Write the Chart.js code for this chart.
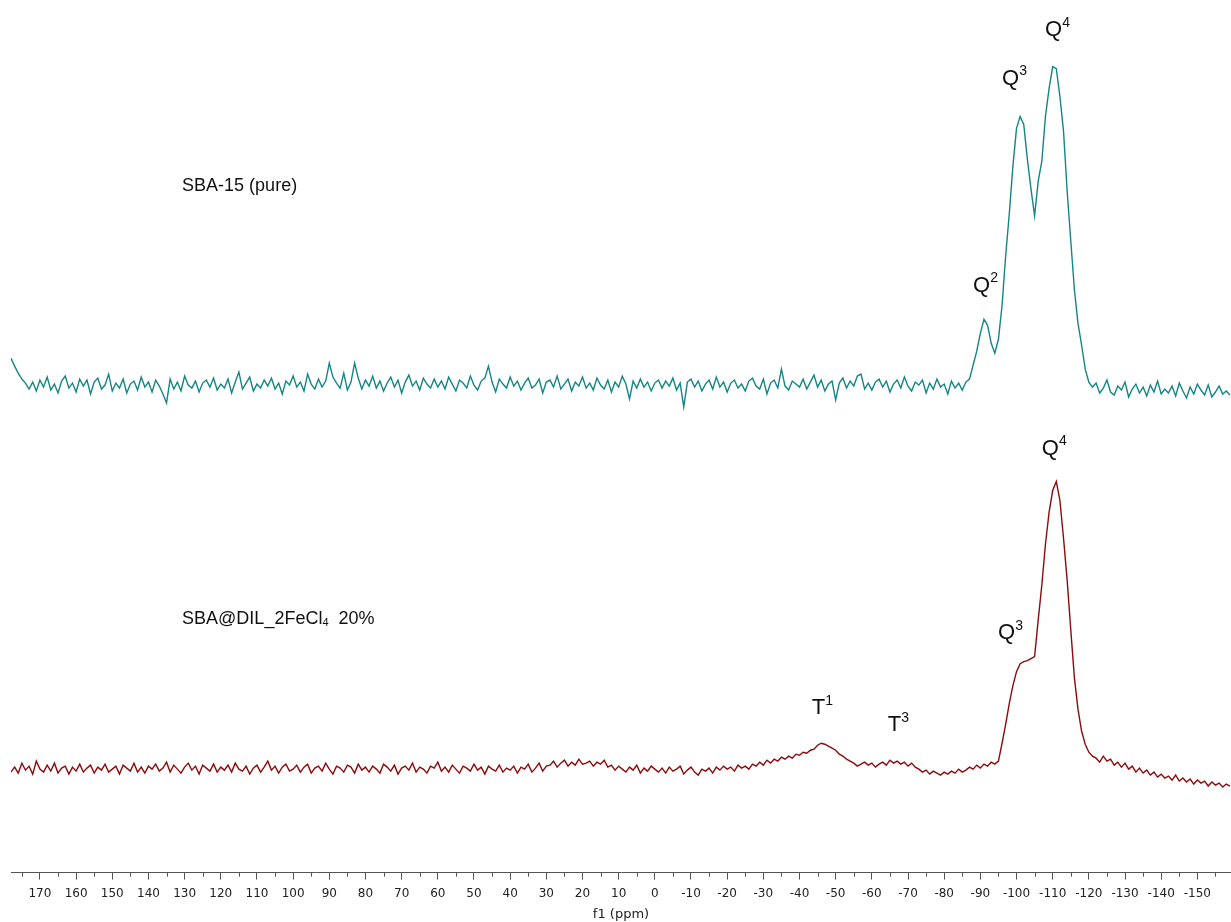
<!DOCTYPE html>
<html>
<head>
<meta charset="utf-8">
<script src="https://cdn.jsdelivr.net/npm/chart.js@4.4.1/dist/chart.umd.min.js"></script>
<style>
  body { margin: 0; background: #fff; }
  canvas { display: block; }
</style>
</head>
<body>
<canvas id="chart" width="1231" height="922"></canvas>
<script>
// 29Si CP-MAS spectra, one point per ppm from 178 down to -159
var ppmStart = 178, ppmEnd = -159;

// labelled ticks on the ppm axis
var tickValues = [170, 160, 150, 140, 130, 120, 110, 100, 90, 80, 70, 60, 50, 40, 30, 20, 10, 0,
  -10, -20, -30, -40, -50, -60, -70, -80, -90, -100, -110, -120, -130, -140, -150];

// SBA-15 (pure), intensity above its own baseline
var pureSBA = [
  27, 19, 12, 6, 2, -4, 3, -6, 5, -2, 8, -5, 1, -8, 4, 9, -3, 2, -7, 6,
  -1, 5, -9, 3, 7, -4, 0, 11, -6, 2, -3, 6, -8, 1, 4, -5, 8, -2, 3, -7,
  5, -1, -9, -18, 6, -4, 3, -6, 9, 0, -3, 4, -7, 2, 5, -2, 7, -5, 1, -3,
  6, -8, 3, 13, -4, 2, 8, -6, 1, -3, 5, -1, 7, -4, 2, -9, 4, 0, 9, -2,
  3, -6, 11, 1, -4, 6, -2, 4, 22, 8, 2, -3, 12, -5, 3, 22, 7, -4, 5, -1,
  9, -3, 4, -6, 2, 8, -2, 5, -8, 3, 10, -1, 4, -5, 7, 1, -3, 6, -2, 4,
  -4, 8, 1, -6, 5, 2, -3, 9, 0, -5, 4, 7, 19, 3, -7, 6, 1, -3, 8, -1,
  4, -5, 2, 7, -3, 0, 6, -8, 3, 5, -2, 9, -4, 1, 6, -6, 3, -1, 8, -3,
  2, -5, 7, 0, -4, 5, -7, 3, -2, 9, 1, -14, 4, -3, 6, -2, 3, -6, 2, 5,
  -3, 4, -1, 7, -5, 2, -22, 3, 6, -2, 4, -6, 1, 5, -4, 8, -2, 3, -7, 2,
  5, -3, 1, -6, 4, 7, -1, -4, 6, -9, 2, 5, -3, 16, -1, -5, 4, 1, -2, 6,
  -4, 3, 10, -2, 5, -6, 1, 4, -15, 2, 7, -3, 4, -1, 9, 11, -4, 2, -5, 3,
  6, -2, 4, -7, 1, 5, -3, 8, -1, -6, 3, 0, 5, -8, 2, -4, 6, -2, 1, -9,
  4, -3, 2, -5, 3, 6, 20, 34, 52, 66, 60, 42, 32, 46, 80, 130, 172, 220, 258, 270,
  262, 227, 197, 170, 205, 225, 270, 298, 320, 318, 290, 255, 195, 145, 96, 62, 40, 16, 3, -2,
  2, -8, -3, 5, -7, -10, -1, -5, 3, -12, -4, 1, -8, -2, -11, 0, -7, 4, -9, -4,
  -8, -1, -11, 2, -6, -13, -2, -9, 1, -5, -10, 0, -12, -7, -1, -9, -6, -10
];

// SBA@DIL_2FeCl4 20%, intensity above its own baseline
var ilSBA = [
  -3, 2, -4, 6, -1, 3, -5, 8, 0, -3, 4, -2, 6, -4, 1, 3, -5, 2, -2, 5,
  -3, 1, 4, -4, 2, -1, 5, -3, 0, 3, -5, 4, 1, -2, 6, -3, 2, -4, 3, 0,
  5, -2, 1, 7, -3, 4, 0, -4, 2, 6, -1, 3, -5, 4, 1, -2, 5, -3, 2, -1,
  4, -3, 6, 0, -2, 3, -5, 1, 4, -3, 2, 8, -1, 3, -4, 2, 5, -2, 0, 4,
  -3, 2, 5, -4, 1, 3, -2, 6, 0, -5, 3, 1, -3, 4, 2, -4, 5, -1, 2, -3,
  3, 0, -4, 5, 2, -2, 4, -5, 1, 3, -1, 6, -3, 2, 0, -4, 3, 1, 7, -2,
  2, -3, 4, 0, -4, 3, 1, -2, 5, -1, 2, -5, 3, 0, -2, 4, -3, 1, -1, 3,
  -4, 2, 0, 5, -3, 1, 6, -2, 3, 4, 8, 2, 6, 9, 3, 7, 4, 10, 5, 6,
  8, 3, 7, 5, 9, 2, 4, -1, 3, 0, -3, 2, -1, 4, -4, 1, -2, 3, 0, -3,
  1, -4, 2, -2, 0, 3, -5, -1, 2, -3, -6, 0, -2, 1, -4, 2, -1, 3, 0, 2,
  -2, 4, 1, 3, 0, 5, 3, 7, 4, 9, 6, 10, 8, 12, 10, 13, 11, 15, 14, 17,
  16, 19, 20, 24, 26, 25, 23, 21, 19, 15, 13, 10, 8, 6, 3, 5, 7, 4, 6, 2,
  5, 7, 4, 9, 6, 8, 5, 7, 3, 6, 2, 0, -3, -1, -5, -2, -4, -6, -3, -5,
  -2, -4, 0, -3, -1, 2, 0, 4, 1, 5, 3, 7, 5, 8, 26, 45, 66, 84, 98, 106,
  108, 109, 111, 113, 150, 185, 226, 258, 280, 289, 270, 232, 190, 140, 92, 60, 38, 25, 17, 13,
  11, 7, 13, 8, 10, 4, 7, 2, 6, 0, 3, -3, 1, -4, -1, -6, -3, -8, -5, -9,
  -7, -11, -6, -12, -9, -13, -10, -15, -11, -14, -12, -17, -13, -16, -14, -18, -15, -17
];

// vertical stacking of the two traces
var pureOffset = 490, ilOffset = 104;

// peak assignments and sample names
var peakLabels = [
  { ppm: -107.9, level: 841, parts: [['Q', 0], ['4', 1]] },
  { ppm: -96.0, level: 792, parts: [['Q', 0], ['3', 1]] },
  { ppm: -88.0, level: 584, parts: [['Q', 0], ['2', 1]] },
  { ppm: -107.0, level: 420, parts: [['Q', 0], ['4', 1]] },
  { ppm: -94.9, level: 235, parts: [['Q', 0], ['3', 1]] },
  { ppm: -43.4, level: 159, parts: [['T', 0], ['1', 1]] },
  { ppm: -64.4, level: 142, parts: [['T', 0], ['3', 1]] }
];
var sampleLabels = [
  { ppm: 130.7, level: 685, parts: [['SBA-15 (pure)', 0]] },
  { ppm: 130.7, level: 250, parts: [['SBA@DIL_2FeCl', 0], ['4', -1], ['  20%', 0]] }
];

var ppm = [];
for (var p = ppmStart; p >= ppmEnd; p--) ppm.push(p);

function toPoints(vals, offset) {
  return vals.map(function (v, i) { return { x: ppm[i], y: v + offset }; });
}

function drawParts(ctx, chart, lbl, size) {
  var x = chart.scales.x.getPixelForValue(lbl.ppm);
  var y = chart.scales.y.getPixelForValue(lbl.level);
  lbl.parts.forEach(function (part) {
    var small = part[1] !== 0;
    var fs = small ? Math.round(size * 0.62) : size;
    ctx.font = fs + 'px "Liberation Sans", Arial, sans-serif';
    var dy = part[1] === 1 ? -size * 0.42 : (part[1] === -1 ? size * 0.12 : 0);
    ctx.fillText(part[0], x, y + dy);
    x += ctx.measureText(part[0]).width;
  });
}

var annotate = {
  id: 'annotate',
  afterDraw: function (chart) {
    var ctx = chart.ctx;
    var xs = chart.scales.x;
    var bottom = chart.chartArea.bottom;
    ctx.save();
    // 5 ppm minor ticks
    ctx.strokeStyle = '#555';
    ctx.lineWidth = 1;
    ctx.beginPath();
    for (var v = -155; v <= 175; v += 10) {
      var px = Math.round(xs.getPixelForValue(v)) + 0.5;
      ctx.moveTo(px, bottom);
      ctx.lineTo(px, bottom + 4);
    }
    ctx.stroke();
    ctx.fillStyle = '#111';
    ctx.textBaseline = 'alphabetic';
    peakLabels.forEach(function (l) { drawParts(ctx, chart, l, 22); });
    sampleLabels.forEach(function (l) { drawParts(ctx, chart, l, 18); });
    ctx.restore();
  }
};

var ctx = document.getElementById('chart').getContext('2d');
var myChart = new Chart(ctx, {
  type: 'line',
  data: {
    datasets: [{
      label: 'SBA-15 (pure)',
      data: toPoints(pureSBA, pureOffset),
      borderColor: '#138585',
      borderWidth: 1.4,
      pointRadius: 0
    }, {
      label: 'SBA@DIL_2FeCl4 20%',
      data: toPoints(ilSBA, ilOffset),
      borderColor: '#8b0a0a',
      borderWidth: 1.4,
      pointRadius: 0
    }]
  },
  options: {
    responsive: false,
    animation: false,
    layout: { padding: { left: 11, right: 0, top: 0, bottom: 0 } },
    plugins: { legend: { display: false }, tooltip: { enabled: false } },
    scales: {
      x: {
        type: 'linear',
        reverse: true,
        min: -159.3,
        max: 178.0,
        afterBuildTicks: function (scale) {
          scale.ticks = tickValues.map(function (v) { return { value: v }; });
        },
        ticks: {
          autoSkip: false,
          maxRotation: 0,
          padding: 7,
          color: '#222',
          font: { family: '"DejaVu Sans", Verdana, sans-serif', size: 12 }
        },
        grid: { drawOnChartArea: false, tickLength: 7, tickColor: '#555' },
        border: { color: '#555', width: 1 },
        title: {
          display: true,
          text: 'f1 (ppm)',
          color: '#222',
          padding: { top: 0, bottom: 1 },
          font: { family: '"DejaVu Sans", Verdana, sans-serif', size: 13, lineHeight: 1 }
        }
      },
      y: {
        display: false,
        min: 0,
        max: 877
      }
    }
  },
  plugins: [annotate]
});
</script>
</body>
</html>
